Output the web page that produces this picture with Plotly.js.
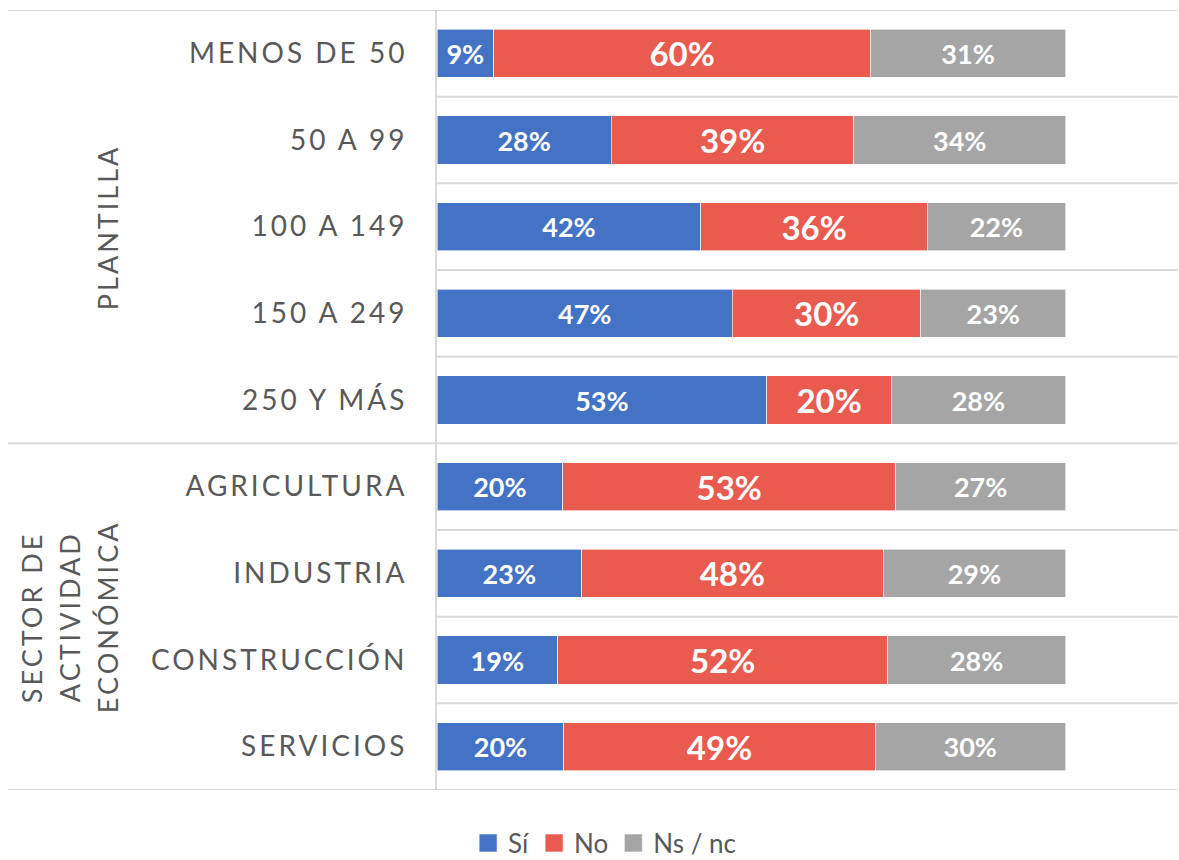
<!DOCTYPE html>
<html>
<head>
<meta charset="utf-8">
<script src="https://cdn.plot.ly/plotly-3.0.1.min.js"></script>
<style>
html,body{margin:0;padding:0;background:#fff;}
#chart{width:1179px;height:860px;}
#chart .yaxislayer-above text{letter-spacing:3px;}
#chart .annotation-text{letter-spacing:3px;}
</style>
</head>
<body>
<div id="chart"></div>
<script>
// ---- data ----
const categories = ["MENOS DE 50","50 A 99","100 A 149","150 A 249","250 Y MÁS",
                    "AGRICULTURA","INDUSTRIA","CONSTRUCCIÓN","SERVICIOS"];
const seriesNames = ["Sí","No","Ns / nc"];
const si   = [9, 28, 42, 47, 53, 20, 23, 19, 20];
const no   = [60, 39, 36, 30, 20, 53, 48, 52, 49];
const nsnc = [31, 34, 22, 23, 28, 27, 29, 28, 30];
const groupLabelLines = [["PLANTILLA"], ["SECTOR DE","ACTIVIDAD","ECONÓMICA"]];
const groupCenters = [2, 6.5];          // category index at group centre
const groupBounds = [-0.5, 4.5, 8.5];   // group separators (category index)

const colors = ["#4472C4","#EA5B4F","#A5A5A5"];
const seriesValues = [si, no, nsnc];
const labelSizes = [27, 33, 27];

const traces = seriesValues.map((vals, i) => ({
  type: 'bar',
  orientation: 'h',
  name: seriesNames[i],
  y: categories,
  x: vals,
  text: vals.map(v => v + '%'),
  textposition: 'inside',
  insidetextanchor: 'middle',
  textangle: 0,
  constraintext: 'none',
  insidetextfont: {family: 'Lato', size: labelSizes[i], color: '#FFFFFF', weight: 'bold'},
  marker: {color: colors[i], line: {color: '#FFFFFF', width: 0.6}},
  hoverinfo: 'skip'
}));

const shapes = [];
for (let k = 0; k < categories.length - 1; k++) {
  const yv = k + 0.5;
  if (groupBounds.includes(yv)) continue;
  shapes.push({type:'line', xref:'paper', yref:'y', x0:0, x1:1, y0:yv, y1:yv,
               line:{color:'#D9D9D9', width:2}, layer:'below'});
}
groupBounds.forEach(b => {
  shapes.push({type:'line', xref:'paper', yref:'y', x0:-0.579, x1:1, y0:b, y1:b,
               line:{color:'#D9D9D9', width:2}, layer:'below'});
});

const lineXs = [-0.444, -0.4953, -0.5466];
const annotations = [];
groupLabelLines.forEach((lines, gi) => {
  const n = lines.length;
  lines.forEach((t, li) => {
    annotations.push({
      text: t, xref: 'paper', yref: 'y',
      x: lineXs[n - 1 - li], y: groupCenters[gi],
      xanchor: 'center', yanchor: 'middle',
      textangle: -90, showarrow: false,
      font: {family: 'Lato', size: 27, color: '#595959'}
    });
  });
});

const layout = {
  width: 1179, height: 860,
  margin: {l: 437, r: 1, t: 10, b: 70, pad: 0, autoexpand: false},
  paper_bgcolor: '#FFFFFF', plot_bgcolor: '#FFFFFF',
  barmode: 'stack',
  barnorm: 'percent',
  bargap: 0.446,
  showlegend: true,
  legend: {orientation: 'h', x: 0.042, xanchor: 'left', y: -0.068, yanchor: 'middle',
           yref: 'paper', font: {family: 'Lato', size: 26, color: '#595959'}, itemwidth: 30,
           traceorder: 'normal', tracegroupgap: 0},
  xaxis: {range: [0, 117.9], showgrid: false, zeroline: false, showticklabels: false,
          ticks: '', fixedrange: true},
  yaxis: {type: 'category', categoryorder: 'array', categoryarray: categories,
          range: [8.5, -0.5], showgrid: false, zeroline: false,
          showline: true, linecolor: '#D9D9D9', linewidth: 2,
          ticks: '', ticklabelstandoff: 22,
          tickfont: {family: 'Lato', size: 28, color: '#595959'}},
  shapes: shapes,
  annotations: annotations,
  font: {family: 'Lato'}
};

Plotly.newPlot('chart', traces, layout, {staticPlot: true, displayModeBar: false}).then(gd => {
  gd.querySelectorAll('.legend .legendpoints path').forEach(p => p.setAttribute('d', 'M9,9H-9V-9H9Z'));
});
</script>
</body>
</html>
